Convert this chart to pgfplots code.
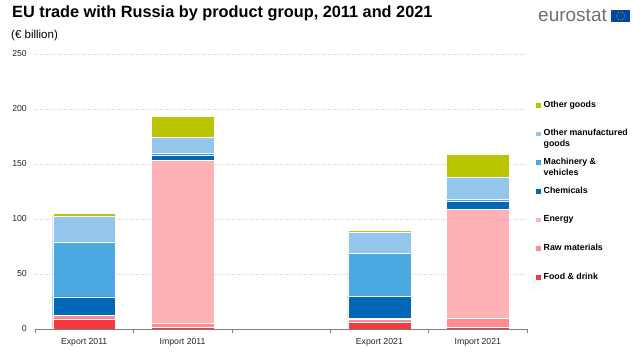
\documentclass[border=0pt]{standalone}
\usepackage{pgfplots}
\pgfplotsset{compat=1.18}
\usepackage{fontspec}
\setmainfont{Liberation Sans}
\definecolor{cfood}{RGB}{246,56,64}
\definecolor{craw}{RGB}{255,140,142}
\definecolor{cenergy}{RGB}{255,178,182}
\definecolor{cchem}{RGB}{0,104,180}
\definecolor{cmach}{RGB}{76,168,224}
\definecolor{cothman}{RGB}{148,198,236}
\definecolor{cother}{RGB}{185,197,0}
\definecolor{ceugray}{RGB}{112,112,112}
\definecolor{ceublue}{RGB}{0,68,164}
\definecolor{ceuyellow}{RGB}{200,190,0}
\begin{document}
\begin{tikzpicture}
\path[use as bounding box] (-35pt,-24pt) rectangle (607pt,329pt);
\begin{axis}[
  at={(0,0)}, anchor=south west,
  scale only axis, width=492pt, height=275pt,
  xmin=-0.5, xmax=4.5, ymin=0, ymax=250,
  ybar stacked, bar width=0.64,
  xtick={0,1,3,4},
  xticklabels={Export 2011, Import 2011, Export 2021, Import 2021},
  minor xtick={-0.5,0.5,1.5,2.5,3.5,4.5},
  major x tick style={draw=none},
  minor x tick style={draw=gray, line width=0.6pt},
  minor tick length=4pt,
  xtick align=outside,
  ytick={0,50,...,250},
  separate axis lines,
  axis x line*=bottom, axis y line*=left,
  x axis line style={-, draw=gray, line width=0.8pt},
  y axis line style={draw=none},
  ytick style={draw=none},
  ymajorgrids, major grid style={dotted, line width=0.7pt, draw=black!18},
  tick label style={font=\fontsize{8.7}{10}\selectfont, text=black!85},
  /pgf/number format/assume math mode=true,
  yticklabel style={inner sep=0pt, xshift=-8pt},
  xticklabel style={inner sep=0pt, yshift=-5pt},
  reverse legend,
  legend style={at={(axis description cs:1,0.833)}, xshift=9pt, anchor=north west,
    draw=none, fill=none, inner sep=0pt, row sep=19.67pt,
    font=\fontsize{8.8}{11}\selectfont\bfseries,
    nodes={inner sep=0pt, text height=7pt, text depth=2pt, anchor=base west},
    /tikz/every odd column/.append style={column sep=3pt}},
  legend cell align=left,
  legend image code/.code={\fill[#1,draw=none] (0pt,-0.5pt) rectangle (4.5pt,4pt);},
  every axis plot/.append style={draw=white, line width=0.4pt},
]
\addplot[fill=cfood] coordinates {(0,9.1) (1,1.8) (3,6.0) (4,1.8)};
\addlegendentry{Food \& drink}
\addplot[fill=craw] coordinates {(0,3.0) (1,3.3) (3,3.1) (4,7.8)};
\addlegendentry{Raw materials}
\addplot[fill=cenergy] coordinates {(0,0.5) (1,148.0) (3,0.5) (4,99.0)};
\addlegendentry{Energy}
\addplot[fill=cchem] coordinates {(0,16.5) (1,5.2) (3,20.0) (4,7.2)};
\addlegendentry{Chemicals}
\addplot[fill=cmach] coordinates {(0,50.0) (1,1.5) (3,39.0) (4,1.8)};
\addlegendentry{\smash{\parbox[t]{3cm}{\raggedright Machinery \&\\vehicles}}}
\addplot[fill=cothman] coordinates {(0,23.4) (1,14.2) (3,19.7) (4,20.7)};
\addlegendentry{\smash{\parbox[t]{3.5cm}{\raggedright Other manufactured\\goods}}}
\addplot[fill=cother] coordinates {(0,2.4) (1,19.1) (3,1.4) (4,20.5)};
\addlegendentry{Other goods}
\end{axis}
% title and subtitle
\node[anchor=base west, inner sep=0pt, font=\fontsize{16.3}{18}\selectfont\bfseries] at (-23pt,311.5pt) {EU trade with Russia by product group, 2011 and 2021};
\node[anchor=base west, inner sep=0pt, font=\fontsize{11.5}{13}\selectfont] at (-24pt,290pt) {(€ billion)};
% eurostat logo
\node[anchor=base west, inner sep=0pt, font=\fontsize{19}{20}\selectfont, text=ceugray] at (503pt,307pt) {eurostat};
\fill[ceublue] (576pt,307pt) rectangle (595pt,319pt);
\foreach \a in {0,30,...,330} \fill[ceuyellow] ([shift={(\a:4pt)}]585.5pt,313pt) circle (0.5pt);
\end{tikzpicture}
\end{document}
